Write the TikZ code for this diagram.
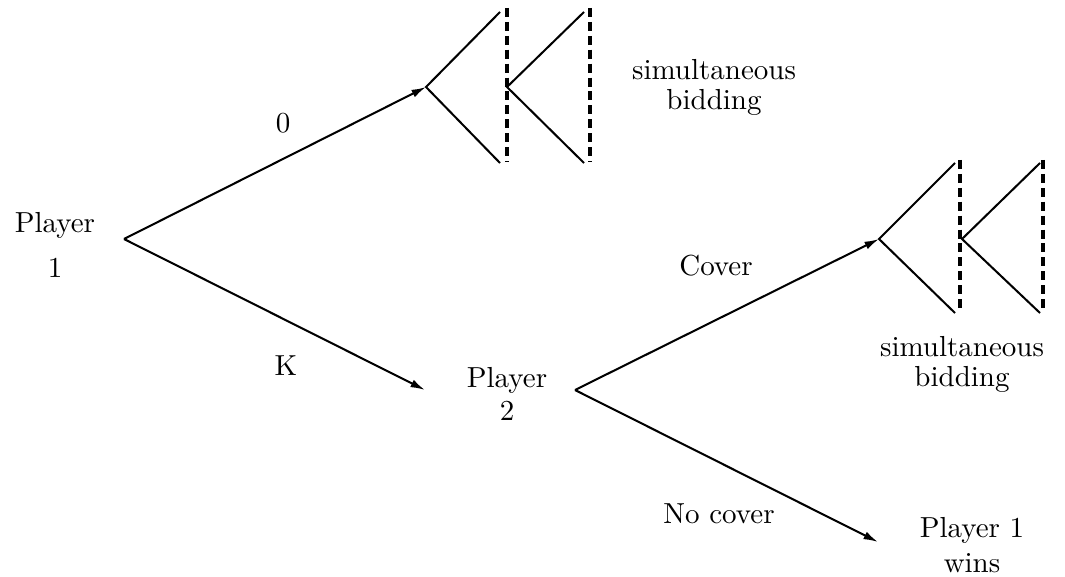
\documentclass[tikz,border=0pt]{standalone}
\usetikzlibrary{arrows.meta}
\begin{document}
\begin{tikzpicture}[x=0.345pt,y=-0.345pt]
\tikzset{mv/.style={line width=0.7pt,-{Latex[length=5pt,width=2.8pt]}},br/.style={line width=0.7pt},
 info/.style={line width=1.2pt,dash pattern=on 3.1pt off 1.7pt},txt/.style={anchor=base,inner sep=0pt}}
\useasboundingbox (0,0) rectangle (1065,577);
% decision points
\coordinate (r) at (124,239);\coordinate (a) at (426,87);\coordinate (q) at (575,390);
\coordinate (b) at (879,239);\coordinate (k) at (425,390);\coordinate (w) at (878,542);
% upper simultaneous stage
\coordinate (a1) at (500,12);\coordinate (a2) at (500,163);\coordinate (a3) at (507,87);
\coordinate (a4) at (584,12);\coordinate (a5) at (584,163);
\coordinate (ia1) at (507,8);\coordinate (ia2) at (507,162);
\coordinate (ia3) at (590,8);\coordinate (ia4) at (590,162);
% lower simultaneous stage
\coordinate (b1) at (955,163);\coordinate (b2) at (955,313);\coordinate (b3) at (962,239);
\coordinate (b4) at (1040,163);\coordinate (b5) at (1040,313);
\coordinate (ib1) at (960,160);\coordinate (ib2) at (960,313);
\coordinate (ib3) at (1043,160);\coordinate (ib4) at (1043,313);
% texts
\node[txt] (p1) at (55,233) {Player};\node[txt] (p1n) at (55,277) {1};
\node[txt] (p2) at (507,387) {Player};\node[txt] (p2n) at (507,420) {2};
\node[txt] (s1) at (714,80) {simultaneous};\node[txt] (s1b) at (714,110) {bidding};
\node[txt] (s2) at (962,356) {simultaneous};\node[txt] (s2b) at (962,386) {bidding};
\node[txt] (win) at (972,537) {Player 1};\node[txt] (winb) at (972,572) {wins};
\node[txt] (l0) at (283,133) {0};
\node[txt] (lk) at (286,375) {K};
\node[txt] (lc) at (716,275) {Cover};
\node[txt] (ln) at (719,523) {No cover};
% moves
\draw[mv] (r) -- (a);\draw[mv] (r) -- (k);
\draw[mv] (q) -- (b);\draw[mv] (q) -- (w);
\draw[br] (a1) -- (a) -- (a2);\draw[br] (a4) -- (a3) -- (a5);
\draw[br] (b1) -- (b) -- (b2);\draw[br] (b4) -- (b3) -- (b5);
\draw[info] (ia1) -- (ia2);\draw[info] (ia3) -- (ia4);
\draw[info] (ib1) -- (ib2);\draw[info] (ib3) -- (ib4);
\end{tikzpicture}
\end{document}
